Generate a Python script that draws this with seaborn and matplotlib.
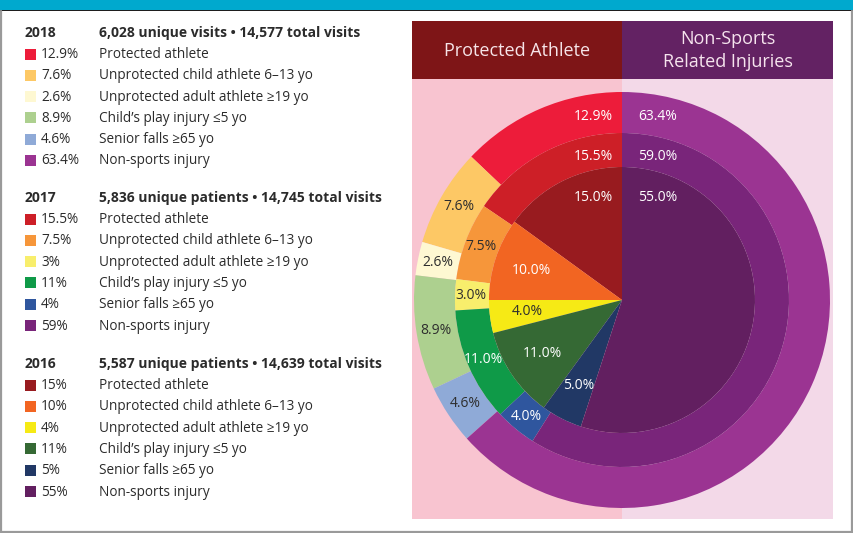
import matplotlib
matplotlib.use("Agg")
import matplotlib.pyplot as plt
from matplotlib.patches import Rectangle
import numpy as np
import seaborn as sns

sns.set_theme(style="white")
plt.rcParams["font.family"] = ["Open Sans", "DejaVu Sans"]

# ---- data -------------------------------------------------------------
categories = [
    "Protected athlete",
    "Unprotected child athlete 6–13 yo",
    "Unprotected adult athlete ≥19 yo",
    "Child’s play injury ≤5 yo",
    "Senior falls ≥65 yo",
    "Non-sports injury",
]
years = ["2018", "2017", "2016"]
headlines = [
    "6,028 unique visits • 14,577 total visits",
    "5,836 unique patients • 14,745 total visits",
    "5,587 unique patients • 14,639 total visits",
]
pct_2018 = [12.9, 7.6, 2.6, 8.9, 4.6, 63.4]
pct_2017 = [15.5, 7.5, 3.0, 11.0, 4.0, 59.0]
pct_2016 = [15.0, 10.0, 4.0, 11.0, 5.0, 55.0]

colors_2018 = ["#ED1C3A", "#FDC865", "#FEF8D2", "#ADD08F", "#8FAAD7", "#9B3492"]
colors_2017 = ["#CD1F27", "#F6963A", "#F8EE6C", "#0F9A48", "#2F569E", "#79257A"]
colors_2016 = ["#981B1F", "#F26522", "#F6EA15", "#356934", "#213865", "#621F60"]

# label text colour for every wedge (dark on pale fills)
label_dark_2018 = [False, True, True, True, True, False]
label_dark_2017 = [False, True, True, False, False, False]
label_dark_2016 = [False, False, True, False, False, False]

series = [pct_2018, pct_2017, pct_2016]
palettes = [colors_2018, colors_2017, colors_2016]
dark_flags = [label_dark_2018, label_dark_2017, label_dark_2016]

W, H = 854, 533
fig = plt.figure(figsize=(W / 100, H / 100), dpi=100)
fig.patch.set_facecolor("white")

# ---- page furniture (pixel coordinates) --------------------------------
bg = fig.add_axes([0, 0, 1, 1])
bg.set_xlim(0, W)
bg.set_ylim(H, 0)
bg.axis("off")

bg.add_patch(Rectangle((0, 0), W, 9.5, color="#00A9CE", lw=0))
bg.add_patch(Rectangle((0, 9.5), W, 1.8, color="#1E1E1E", lw=0))
bg.plot([0.8, 0.8], [11, 532], color="#9A9A9A", lw=1.6)
bg.plot([852.2, 852.2], [11, 532], color="#9A9A9A", lw=1.6)
bg.plot([0, W], [531.6, 531.6], color="#9A9A9A", lw=1.6)

# chart panel backgrounds and headers
px0, pmid, px1 = 412, 622, 833
bg.add_patch(Rectangle((px0, 79), pmid - px0, 440, color="#F8C4D0", lw=0))
bg.add_patch(Rectangle((pmid, 79), px1 - pmid, 440, color="#F3D9E8", lw=0))
bg.add_patch(Rectangle((px0, 21), pmid - px0, 58, color="#7E1517", lw=0))
bg.add_patch(Rectangle((pmid, 21), px1 - pmid, 58, color="#632263", lw=0))
bg.text((px0 + pmid) / 2, 50.5, "Protected Athlete", color="#F6E4E8",
        fontsize=13, ha="center", va="center")
bg.text((pmid + px1) / 2, 39, "Non-Sports", color="#F6E4EE",
        fontsize=13, ha="center", va="center")
bg.text((pmid + px1) / 2, 62, "Related Injuries", color="#F6E4EE",
        fontsize=13, ha="center", va="center")

# ---- legend blocks ------------------------------------------------------
text_col = "#2B2B2B"
block_tops = [33, 198, 364]
row_step = 21.3
for year, head, vals, cols, top in zip(years, headlines, series, palettes, block_tops):
    bg.text(25, top, year, fontsize=10, fontweight="bold", color=text_col,
            ha="left", va="center")
    bg.text(99, top, head, fontsize=10, fontweight="bold", color=text_col,
            ha="left", va="center")
    for i, (cat, v, c) in enumerate(zip(categories, vals, cols)):
        y = top + 21 + row_step * i
        bg.add_patch(Rectangle((25, y - 5.5), 11, 11, color=c, lw=0))
        bg.text(41, y + 0.5, f"{v:g}%", fontsize=9.8, color=text_col,
                ha="left", va="center")
        bg.text(99, y + 0.5, cat, fontsize=9.8, color=text_col,
                ha="left", va="center")

# ---- nested pie ----------------------------------------------------------
cx, cy, R = 622, 300, 208
pie_ax = fig.add_axes([(cx - R) / W, (H - (cy + R)) / H, 2 * R / W, 2 * R / H])
pie_ax.set_xlim(-1, 1)
pie_ax.set_ylim(-1, 1)
pie_ax.axis("off")

radii = [1.0, 167 / R, 133 / R]
widths = [1.0 - 167 / R, (167 - 133) / R, 133 / R]
label_r = [0.905, 0.725, 0.46]        # radius for side wedges' labels
edge_label_y = [0.88, 0.69, 0.495]    # height for labels beside the top split

for vals, cols, dark, r, w, lr, ey in zip(series, palettes, dark_flags,
                                          radii, widths, label_r, edge_label_y):
    wedges, _ = pie_ax.pie(vals, colors=cols, radius=r, startangle=90,
                           counterclock=True,
                           wedgeprops=dict(width=w, linewidth=0))
    n = len(vals)
    for i, (wd, v) in enumerate(zip(wedges, vals)):
        txt = f"{v:.1f}%"
        col = "#2E2E2E" if dark[i] else "white"
        if i == 0:
            pie_ax.text(-9 / R, ey, txt, color=col, fontsize=10,
                        ha="right", va="center")
        elif i == n - 1:
            pie_ax.text(16 / R, ey, txt, color=col, fontsize=10,
                        ha="left", va="center")
        else:
            ang = np.deg2rad((wd.theta1 + wd.theta2) / 2)
            pie_ax.text(lr * np.cos(ang), lr * np.sin(ang), txt, color=col,
                        fontsize=10, ha="center", va="center")

pie_ax.set_xlim(-1, 1)
pie_ax.set_ylim(-1, 1)

fig.savefig("out.png", dpi=100)
